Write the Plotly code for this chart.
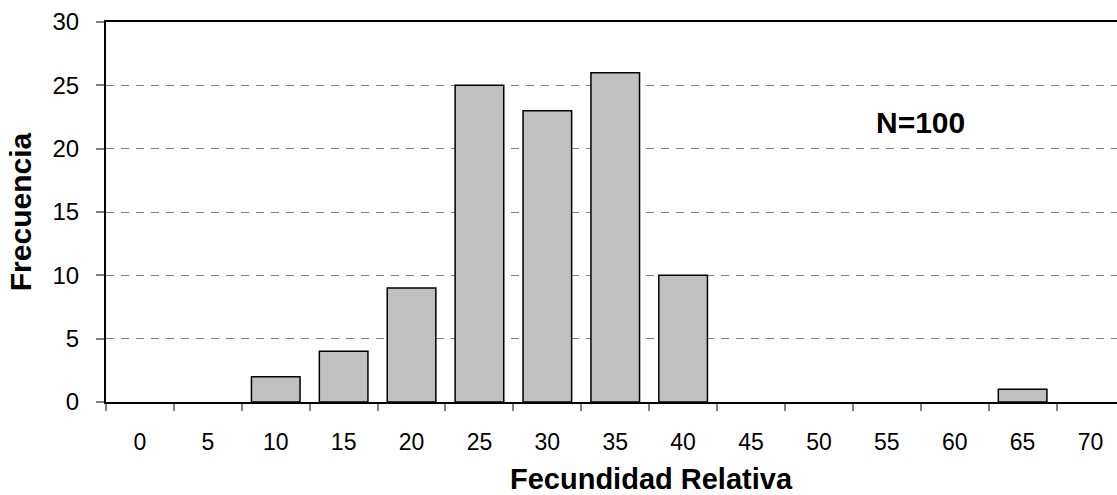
import plotly.graph_objects as go

categories = ["0", "5", "10", "15", "20", "25", "30", "35", "40", "45", "50", "55", "60", "65", "70"]
frequencies = [0, 0, 2, 4, 9, 25, 23, 26, 10, 0, 0, 0, 0, 1, 0]
y_ticks = [0, 5, 10, 15, 20, 25, 30]

FONT = "Liberation Sans, Arial, sans-serif"

fig = go.Figure()
fig.add_trace(go.Bar(
    x=categories,
    y=frequencies,
    marker=dict(
        color="#C0C0C0",
        line=dict(color="black", width=[1.5 if v > 0 else 0 for v in frequencies]),
    ),
    showlegend=False,
))

fig.add_annotation(
    x=11.5, y=22.1, xref="x", yref="y",
    text="<b>N=100</b>", showarrow=False,
    font=dict(family=FONT, size=30, color="black"),
)

# x-axis title (placed as in the reference, slightly right of plot centre)
fig.add_annotation(
    x=0.54, y=-0.203, xref="paper", yref="paper",
    xanchor="center", yanchor="middle",
    text="<b>Fecundidad Relativa</b>", showarrow=False,
    font=dict(family=FONT, size=29, color="black"),
)

fig.update_layout(
    width=1117, height=495,
    margin=dict(l=106, r=0, t=22, b=93),
    paper_bgcolor="white", plot_bgcolor="white",
    bargap=0.284,
    font=dict(family=FONT, color="black"),
)

fig.update_xaxes(
    type="category",
    range=[-0.5, 14.39],
    automargin=False,
    tickson="boundaries",
    ticks="outside", ticklen=7, tickwidth=2, tickcolor="#808080",
    showline=True, linecolor="black", linewidth=2, mirror=True,
    showgrid=False,
    tickfont=dict(size=23, family=FONT),
    ticklabelstandoff=18,
)

fig.update_yaxes(
    range=[0, 30],
    automargin=False,
    tickvals=y_ticks,
    ticks="outside", ticklen=8, tickwidth=2, tickcolor="#808080",
    showline=True, linecolor="black", linewidth=2,
    showgrid=True, gridcolor="#808080", gridwidth=1, griddash="8px,7px",
    zeroline=False,
    tickfont=dict(size=24, family=FONT),
    ticklabelstandoff=12,
    title=dict(text="<b>Frecuencia</b>", font=dict(size=30, family=FONT), standoff=12),
)

fig.write_html(
    "out.html",
    config={"displayModeBar": False},
    post_script="document.body.style.margin='0';document.body.style.overflow='hidden';",
)
